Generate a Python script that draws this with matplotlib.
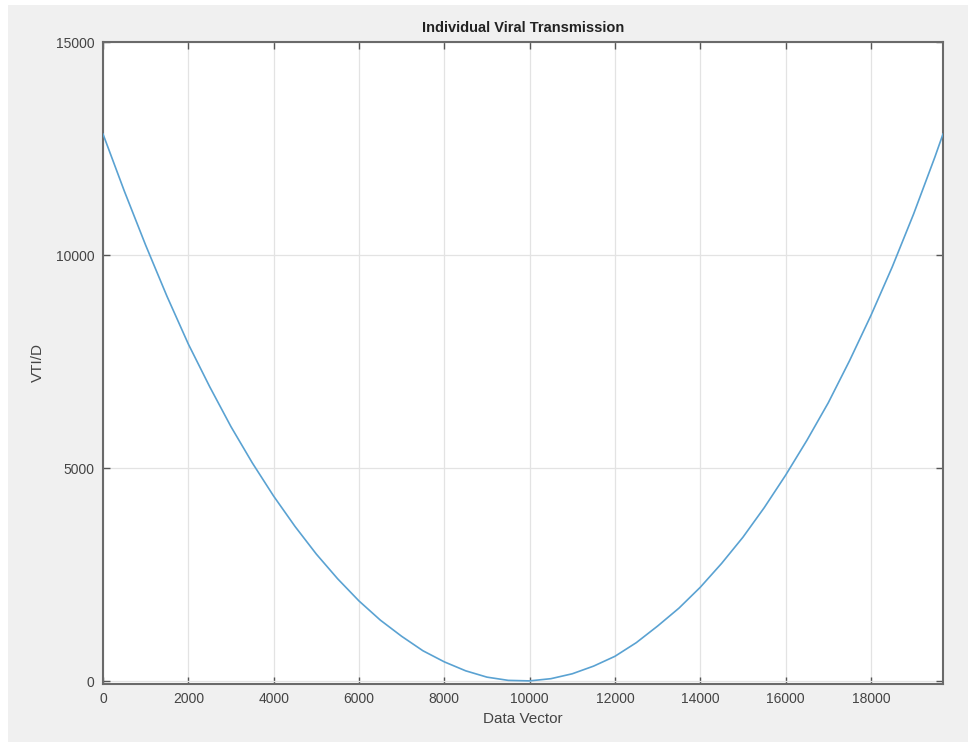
import matplotlib
matplotlib.use("Agg")
import matplotlib.pyplot as plt
from matplotlib.patches import Rectangle

# Data
data_vector = [0, 500, 1000, 1500, 2000, 2500, 3000, 3500, 4000, 4500, 5000,
               5500, 6000, 6500, 7000, 7500, 8000, 8500, 9000, 9500, 10000,
               10500, 11000, 11500, 12000, 12500, 13000, 13500, 14000, 14500, 15000,
               15500, 16000, 16500, 17000, 17500, 18000, 18500, 19000, 19500, 19690]
vti_d = [12840, 11500, 10230, 9030, 7910, 6910, 5970, 5120, 4340, 3630, 2980,
         2400, 1880, 1430, 1050, 710, 450, 240, 91, 15, 3,
         55, 170, 350, 580, 900, 1290, 1710, 2200, 2760, 3375,
         4070, 4830, 5650, 6530, 7520, 8580, 9720, 10960, 12300, 12840]

x_ticks = [0, 2000, 4000, 6000, 8000, 10000, 12000, 14000, 16000, 18000]
y_ticks = [0, 5000, 10000, 15000]

title = "Individual Viral Transmission"
x_label = "Data Vector"
y_label = "VTI/D"

plt.rcParams['font.family'] = ['Liberation Sans', 'DejaVu Sans']

fig = plt.figure(figsize=(9.68, 7.42), dpi=100, facecolor='white')
fig.patches.append(Rectangle((8/968, 0), 1, 1 - 5/742, transform=fig.transFigure,
                             facecolor='#f0f0f0', edgecolor='none', zorder=-10))

ax = fig.add_axes([103/968, 1 - 684/742, (943 - 103)/968, (684 - 42)/742])
ax.set_facecolor('white')
ax.plot(data_vector, vti_d, color='#5aa2d2', linewidth=1.2, zorder=3,
        solid_joinstyle='round')

ax.set_xlim(0, 19690)
ax.set_ylim(-70, 15000)
ax.set_xticks(x_ticks)
ax.set_yticks(y_ticks)
ax.set_xticklabels([str(t) for t in x_ticks])
ax.set_yticklabels([str(t) for t in y_ticks])

ax.grid(True, color='#e3e3e3', linewidth=0.9, zorder=0)
ax.set_axisbelow(True)
for s in ax.spines.values():
    s.set_color('#6a6a6a')
    s.set_linewidth(1.5)
ax.tick_params(direction='in', length=5, width=1, colors='#555555',
               labelcolor='#444444', labelsize=10, top=True, right=True, pad=6)

ax.set_title(title, fontsize=10.5, fontweight='bold', color='#222222', pad=7)
ax.set_xlabel(x_label, fontsize=11, color='#444444', labelpad=4)
ax.set_ylabel(y_label, fontsize=11, color='#444444', labelpad=8)

fig.savefig('out.png', dpi=100, facecolor=fig.get_facecolor())
